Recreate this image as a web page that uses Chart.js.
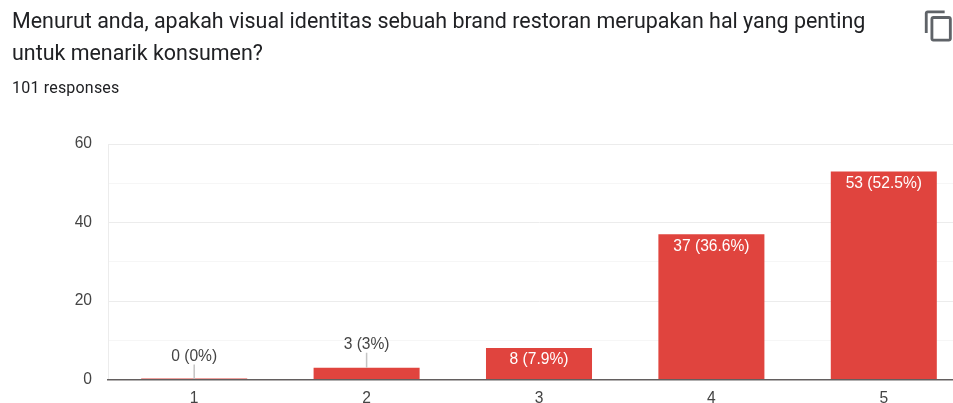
<!DOCTYPE html>
<html>
<head>
<meta charset="utf-8">
<script src="https://cdn.jsdelivr.net/npm/chart.js@4"></script>
<style>
  html, body { margin: 0; padding: 0; background: #fff; width: 953px; height: 403px; overflow: hidden; }
  body { position: relative; font-family: Roboto, sans-serif; }
  #chartBox { position: absolute; left: 0; top: 0; width: 1000px; height: 403px; }
  .question { position: absolute; left: 12px; top: 5px; margin: 0; font-size: 21.45px; font-weight: 400; line-height: 32px; color: #202124; white-space: nowrap; }
  .count { position: absolute; left: 12px; top: 79px; font-size: 16px; line-height: 18px; color: #202124; letter-spacing: 0.2px; }
  .copy { position: absolute; left: 922px; top: 9px; width: 34px; height: 34px; }
</style>
</head>
<body>
<div id="chartBox"><canvas id="responseChart"></canvas></div>
<h1 class="question">Menurut anda, apakah visual identitas sebuah brand restoran merupakan hal yang penting<br>untuk menarik konsumen?</h1>
<div class="count">101 responses</div>
<svg class="copy" viewBox="0 0 24 24"><path fill="#5f6368" d="M16 1H4C2.9 1 2 1.9 2 3v14h2V3h12V1zm3 4H8C6.9 5 6 5.9 6 7v14c0 1.1.9 2 2 2h11c1.1 0 2-.9 2-2V7c0-1.1-.9-2-2-2zm0 16H8V7h11v14z"/></svg>
<script>
const categories = ['1', '2', '3', '4', '5'];
const counts = [0, 3, 8, 37, 53];
const percents = ['0%', '3%', '7.9%', '36.6%', '52.5%'];
const labeledTicks = [0, 20, 40, 60];

const barColor = '#e0443e';
const textColor = '#444';
const chartFont = '"Liberation Sans", Arial, sans-serif';
const chartFontSize = 15.6;

// value labels: white inside the tall bars, grey with a leader line above the short ones
const valueLabels = {
  id: 'valueLabels',
  afterDatasetsDraw(chart) {
    const ctx = chart.ctx;
    const bars = chart.getDatasetMeta(0).data;
    const base = chart.scales.y.getPixelForValue(0);
    ctx.save();
    ctx.font = chartFontSize + 'px ' + chartFont;
    ctx.textAlign = 'center';
    ctx.textBaseline = 'middle';
    bars.forEach((bar, i) => {
      const text = counts[i] + ' (' + percents[i] + ')';
      const top = counts[i] === 0 ? base : bar.y;
      if (base - top > 20) {
        ctx.fillStyle = '#fff';
        ctx.fillText(text, bar.x, top + 12);
      } else {
        ctx.strokeStyle = '#c4c4c4';
        ctx.lineWidth = 1.5;
        ctx.beginPath();
        ctx.moveTo(bar.x, top);
        ctx.lineTo(bar.x, top - 15);
        ctx.stroke();
        ctx.fillStyle = textColor;
        ctx.fillText(text, bar.x, top - 23);
      }
    });
    ctx.restore();
  }
};

new Chart(document.getElementById('responseChart'), {
  type: 'bar',
  data: {
    labels: categories,
    datasets: [{
      data: counts,
      backgroundColor: barColor,
      categoryPercentage: 0.615,
      barPercentage: 1,
      minBarLength: 1
    }]
  },
  options: {
    responsive: true,
    maintainAspectRatio: false,
    animation: false,
    layout: { padding: { top: 144, right: 30, left: 0, bottom: 0 } },
    plugins: { legend: { display: false }, tooltip: { enabled: false } },
    scales: {
      x: {
        afterFit: s => { s.height = 23.5; s.paddingLeft = 0; s.paddingRight = 0; },
        grid: { display: false, drawTicks: false },
        border: { color: 'rgba(75, 70, 70, 0.85)', width: 1.5, z: 1 },
        ticks: { color: textColor, font: { family: chartFont, size: chartFontSize }, padding: 10, maxRotation: 0 }
      },
      y: {
        min: 0,
        max: 60,
        // tick label overhang would otherwise push the plot area in
        afterFit: s => { s.width = 108; s.paddingTop = 0; s.paddingBottom = 0; },
        grid: {
          drawTicks: false,
          color: c => labeledTicks.includes(c.tick.value) ? '#ececec' : '#f6f6f6'
        },
        border: { color: '#ececec' },
        ticks: {
          stepSize: 10,
          padding: 16,
          color: textColor,
          font: { family: chartFont, size: chartFontSize },
          callback: v => labeledTicks.includes(v) ? v : ''
        }
      }
    }
  },
  plugins: [valueLabels]
});
</script>
</body>
</html>
